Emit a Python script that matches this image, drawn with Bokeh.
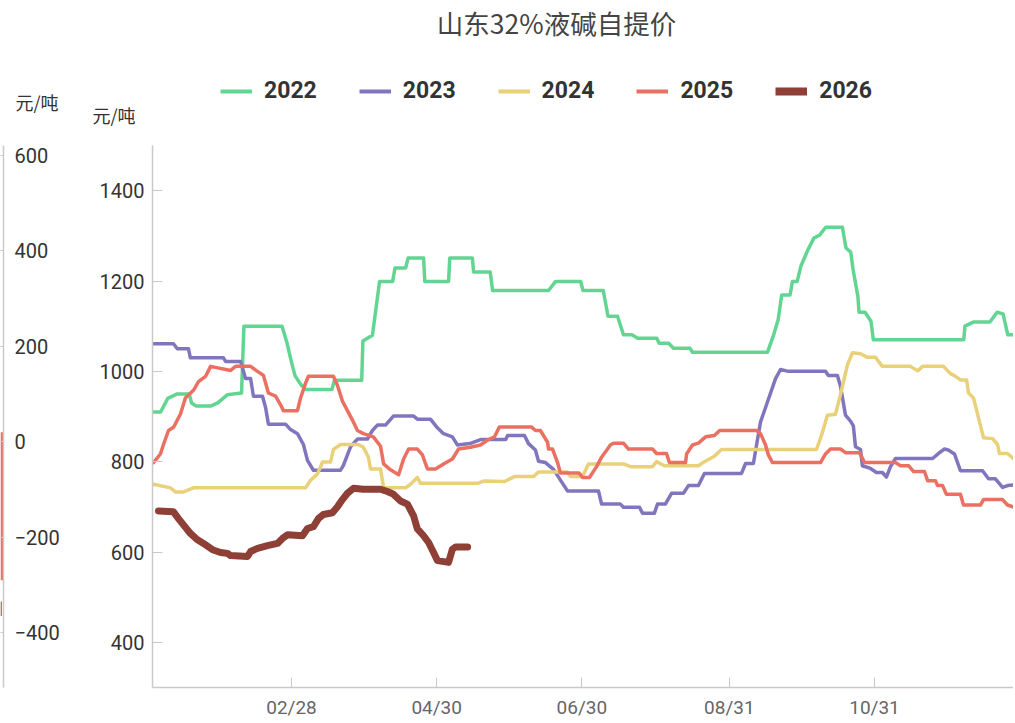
from bokeh.plotting import figure
from bokeh.layouts import row, column
from bokeh.models import Range1d, FixedTicker, Legend, LegendItem, Label
from bokeh.embed import file_html
from bokeh.resources import INLINE

TITLE = "山东32%液碱自提价"
UNIT = "元/吨"
years = ["2022", "2023", "2024", "2025", "2026"]
colors = ["#62d592", "#8176bd", "#e9d179", "#ea7062", "#8e4037"]
widths = [3.5, 3.5, 3.5, 3.5, 7]
legend_widths = [4, 4, 4, 4, 8]

x_tick_days = [58, 119, 180, 242, 303]
x_tick_labels = ["02/28", "04/30", "06/30", "08/31", "10/31"]
y_ticks = [400, 600, 800, 1000, 1200, 1400]
side_ticks = [-400, -200, 0, 200, 400, 600]
side_bar = [20, -290]
side_mark = [-335, -365]

# day of year (0 = Jan 1), price
d2022 = [0, 3, 6, 8, 10, 15, 16, 18, 24, 27, 31, 37, 38, 54, 56, 58, 59.5, 62, 64, 75, 76, 87.5, 88, 92, 95,
         100.5, 101.5, 106, 107, 113.5, 114, 124, 124.5, 134, 134.5, 141.5, 142.5, 166, 169, 179.5, 180.5, 189,
         191, 195, 197.5, 201, 203.5, 211.5, 212.5, 216.5, 218.5, 225.5, 226.5, 258, 260.5, 262.5, 264, 267.5,
         268.5, 270.5, 272, 275, 277.5, 280, 282.5, 289.5, 291, 293, 294, 296, 296.5, 299, 301.5, 302.5, 340.5,
         341, 344.5, 351.5, 354.5, 357, 359, 364]
v2022 = [910, 910, 940, 945, 950, 950, 930, 923, 923, 930, 948, 952, 1100, 1100, 1065, 1020, 990, 970, 960, 960,
         980, 980, 1067, 1080, 1199, 1199, 1229, 1229, 1251, 1251, 1199, 1199, 1251, 1251, 1220, 1220, 1179, 1179,
         1199, 1199, 1179, 1179, 1122, 1122, 1081, 1081, 1073, 1073, 1062, 1062, 1051, 1051, 1042, 1042, 1079,
         1114, 1169, 1169, 1199, 1199, 1232, 1269, 1295, 1302, 1319, 1319, 1273, 1264, 1225, 1166, 1131, 1131,
         1111, 1070, 1070, 1100, 1109, 1109, 1131, 1127, 1081, 1081]

d2023 = [0, 8.4, 10, 14.7, 15.5, 29.4, 30.3, 36.6, 38.7, 40.8, 42, 45.8, 47.1, 48.3, 55.5, 57.6, 60.5, 63, 64.7,
         67.2, 78.6, 79.8, 82.8, 85.7, 89.9, 92, 94.1, 97.5, 100.8, 109.3, 110.9, 116.4, 119.3, 121.9, 125.6,
         127.7, 133, 137.4, 148, 148.8, 155.9, 157.6, 160.5, 161.8, 164.7, 168.1, 171.9, 174, 187, 188.3, 196.2,
         197.5, 204.2, 205.5, 210.5, 211.8, 215.1, 217.7, 222.7, 224.8, 229, 231.5, 247.1, 248.8, 252.1, 253.4,
         255.1, 258, 261.4, 263.5, 266.8, 282.4, 283.6, 287.4, 288.7, 290.8, 292.9, 294.1, 295, 297.1, 297.9,
         301.3, 303.8, 306.3, 308, 309.7, 311.8, 327.4, 330.3, 332.4, 334, 336.6, 339.1, 348.4, 350.9, 353.8,
         356.8, 358.9, 364]
v2023 = [1061, 1061, 1050, 1050, 1030, 1030, 1022, 1022, 984, 984, 945, 945, 920, 883, 883, 871, 862, 838, 803,
         781, 781, 792, 833, 850, 850, 869, 881, 881, 901, 901, 894, 894, 875, 862, 855, 837, 840, 849, 849, 858,
         858, 840, 826, 801, 798, 783, 752, 735, 735, 706, 706, 699, 699, 686, 686, 706, 706, 730, 730, 747, 747,
         774, 774, 796, 796, 836, 888, 932, 984, 1004, 1000, 1000, 991, 991, 967, 903, 890, 879, 833, 827, 791,
         785, 776, 776, 766, 789, 807, 807, 820, 828, 826, 817, 780, 780, 762, 762, 743, 747, 750]

d2024 = [0, 7.1, 9.2, 12.6, 16.8, 63.9, 66, 68.9, 71, 74.4, 75.6, 78.6, 86.1, 88.2, 90.3, 91.2, 95.4, 96.7, 105.9,
         108, 110.9, 112.2, 136.2, 138.7, 147.5, 151.7, 159.7, 161.8, 174, 175.2, 180.3, 182.8, 197.5, 200.5,
         209.7, 211.4, 214.7, 229, 231.5, 235.7, 238.7, 278.6, 280.7, 283.2, 286.6, 288.7, 291.6, 293.7, 297.1,
         300, 303.4, 306.3, 318.1, 321.1, 323.2, 332, 334.9, 337, 339.1, 341.7, 342.5, 344.6, 346.7, 348.8, 352.6,
         354.7, 355.5, 358.9, 364]
v2024 = [750, 742, 733, 733, 742, 742, 759, 773, 799, 799, 827, 838, 838, 832, 810, 784, 784, 742, 742, 750, 765,
         752, 752, 757, 756, 767, 767, 777, 777, 767, 767, 795, 795, 789, 789, 800, 791, 791, 800, 812, 827, 827,
         858, 903, 905, 949, 1014, 1041, 1039, 1031, 1031, 1011, 1011, 1001, 1011, 1011, 995, 989, 981, 981, 952,
         941, 897, 853, 851, 838, 818, 818, 795]

d2025 = [0, 2.9, 4.2, 6.3, 8.4, 11.3, 13.4, 16.8, 18.9, 21.9, 24, 32.4, 34.5, 40.8, 43.7, 46.2, 48.3, 51.3, 53.4,
         54.6, 60.5, 61.8, 63.9, 65.1, 75.6, 77.3, 79.4, 81.5, 83.6, 85.7, 88.2, 92.4, 95.4, 96.7, 99.6, 103,
         105.1, 107.2, 110.9, 113, 115.1, 118.5, 121.9, 125.6, 128.2, 133.2, 137.4, 140.4, 143.3, 145.4, 158.8,
         160.5, 162.6, 165.6, 166, 167.7, 169.8, 171, 178.8, 180.3, 183.2, 186.2, 188.3, 192, 193.3, 197.5, 199.6,
         209.7, 211.4, 215.6, 216.8, 223.6, 224, 226.5, 229, 232, 235.7, 237.9, 253.4, 255.1, 257.2, 258.4, 260.1,
         280.3, 282.4, 284.5, 288.7, 290.8, 296.7, 298.8, 311.8, 313.9, 317.3, 319.4, 324, 325.3, 328.6, 329.5,
         331.6, 333.2, 339.1, 340.4, 347.5, 348.8, 356.8, 358.9, 364]
v2025 = [798, 817, 838, 869, 876, 905, 941, 958, 977, 989, 1011, 1002, 1011, 1011, 1000, 991, 952, 945, 926, 913,
         913, 941, 974, 989, 989, 969, 934, 913, 892, 869, 862, 855, 834, 795, 782, 771, 806, 828, 828, 815, 784,
         784, 795, 806, 828, 832, 837, 848, 855, 877, 877, 869, 869, 843, 828, 828, 798, 775, 775, 765, 765, 789,
         810, 837, 841, 841, 828, 828, 818, 818, 798, 798, 817, 837, 841, 855, 858, 869, 869, 862, 837, 815, 798,
         798, 817, 828, 828, 820, 820, 798, 798, 791, 791, 778, 778, 758, 758, 747, 747, 728, 728, 704, 704, 716,
         716, 704, 695]

d2026 = [2.1, 8.4, 10.5, 12.6, 15.5, 18.5, 21, 24.8, 28.2, 31.1, 32.4, 39.5, 40.8, 43.7, 47.9, 52.1, 54.2, 56.3,
         62.6, 64.7, 67.2, 69.3, 71.4, 75.2, 77.3, 79.4, 81.5, 84, 88.2, 95.4, 98.3, 100.8, 103.8, 106.7, 109.3,
         110.9, 113.5, 115.6, 117.7, 119.3, 124, 125.6, 126.9, 132]
v2026 = [691, 689, 674, 660, 641, 627, 619, 605, 599, 597, 592, 590, 601, 608, 614, 619, 630, 638, 636, 652, 656,
         674, 683, 687, 700, 716, 730, 741, 739, 739, 734, 728, 713, 706, 680, 651, 636, 621, 599, 581, 577, 606,
         611, 611]

series_days = [d2022, d2023, d2024, d2025, d2026]
series_vals = [v2022, v2023, v2024, v2025, v2026]

LATIN = "Roboto"
CJK = "Noto Sans CJK SC"
AXIS_COLOR = "#c9c9c9"
HEADER_H = 132
TOTAL_W = 1013
BODY_H = 589

# ---------------- header strip: title, legend, unit labels ----------------
header = figure(width=TOTAL_W, height=HEADER_H, output_backend="svg", toolbar_location=None,
                x_range=Range1d(0, TOTAL_W), y_range=Range1d(HEADER_H, 0),
                x_axis_location=None, y_axis_location=None, min_border=0)
header.outline_line_color = None
header.grid.grid_line_color = None
header.add_layout(Label(x=556, y=22, text=TITLE, text_font=CJK, text_font_size="26.5px",
                        text_color="#444444", text_baseline="middle", text_align="center"))
header.add_layout(Label(x=15, y=101, text=UNIT, text_font=CJK, text_font_size="18px",
                        text_color="#333333", text_baseline="middle", text_align="left"))
header.add_layout(Label(x=92, y=114, text=UNIT, text_font=CJK, text_font_size="18px",
                        text_color="#333333", text_baseline="middle", text_align="left"))
# legend proxies: same series, they fall outside this strip's range so only the legend shows
legend_renderers = [header.line(dd, vv, line_color=c, line_width=w, line_cap="butt")
                    for c, w, dd, vv in zip(colors, legend_widths, series_days, series_vals)]
legend = Legend(items=[LegendItem(label=yr, renderers=[r]) for yr, r in zip(years, legend_renderers)],
                orientation="horizontal", location=(220, 28),
                label_text_font=LATIN, label_text_font_style="bold", label_text_font_size="23px",
                label_text_color="#333333", glyph_width=32, glyph_height=20, label_standoff=12,
                spacing=42, padding=0, margin=0, border_line_color=None, background_fill_alpha=0)
header.add_layout(legend, "center")

# ---------------- side (cut-off) chart on the left ----------------
side = figure(width=72, height=BODY_H, output_backend="svg", toolbar_location=None,
              x_range=Range1d(0, 1), y_range=Range1d(-515, 621),
              x_axis_location=None, y_axis_location="right",
              min_border_left=0, min_border_right=69, min_border_top=13, min_border_bottom=32)
side.outline_line_color = None
side.grid.grid_line_color = None
side.quad(left=[0], right=[1], bottom=[side_bar[1]], top=[side_bar[0]], color=colors[3], line_color=None)
side.quad(left=[0], right=[0.4], bottom=[side_mark[1]], top=[side_mark[0]], color=colors[4], line_color=None)
ya = side.yaxis[0]
ya.ticker = FixedTicker(ticks=side_ticks)
ya.axis_line_color = AXIS_COLOR
ya.axis_line_width = 1.5
ya.major_tick_line_color = AXIS_COLOR
ya.major_tick_in = 3
ya.major_tick_out = 0
ya.minor_tick_line_color = None
ya.major_label_standoff = 11
ya.major_label_text_font = LATIN
ya.major_label_text_font_size = "20px"
ya.major_label_text_color = "#333333"

# ---------------- main chart ----------------
p = figure(width=TOTAL_W - 72, height=BODY_H, output_backend="svg", toolbar_location=None,
           x_range=Range1d(-0.42, 361.4), y_range=Range1d(300, 1500),
           min_border_left=80, min_border_right=0, min_border_top=13, min_border_bottom=32)
p.outline_line_color = None
p.grid.grid_line_color = None

for yr, c, w, dd, vv in zip(years, colors, widths, series_days, series_vals):
    p.line(dd, vv, line_color=c, line_width=w, line_join="round", line_cap="round")

xa = p.xaxis[0]
xa.ticker = FixedTicker(ticks=x_tick_days)
xa.major_label_overrides = {d: lab for d, lab in zip(x_tick_days, x_tick_labels)}
xa.axis_line_color = AXIS_COLOR
xa.axis_line_width = 1.5
xa.major_tick_line_color = AXIS_COLOR
xa.major_tick_in = 10
xa.major_tick_out = 0
xa.minor_tick_line_color = None
xa.major_label_standoff = 8
xa.major_label_text_font = LATIN
xa.major_label_text_font_size = "19px"
xa.major_label_text_color = "#666666"

yb = p.yaxis[0]
yb.ticker = FixedTicker(ticks=y_ticks)
yb.axis_line_color = AXIS_COLOR
yb.axis_line_width = 1.5
yb.major_tick_line_color = AXIS_COLOR
yb.major_tick_in = 10
yb.major_tick_out = 0
yb.minor_tick_line_color = None
yb.major_label_standoff = 8
yb.major_label_text_font = LATIN
yb.major_label_text_font_size = "20px"
yb.major_label_text_color = "#333333"

layout = column(header, row(side, p))
open("out.html", "w").write(file_html(layout, INLINE))
